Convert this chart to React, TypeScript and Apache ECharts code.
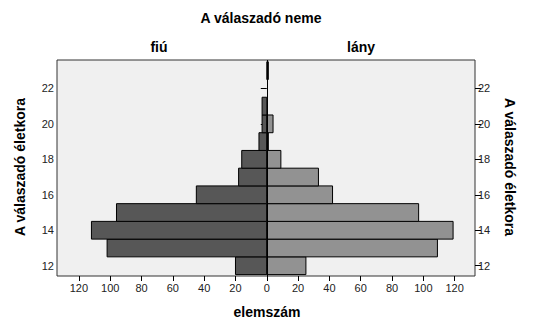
import React, { useEffect, useRef } from "react";
import * as echarts from "echarts";

const ages = [12, 13, 14, 15, 16, 17, 18, 19, 20, 21, 22, 23];
const boys = [20, 102, 112, 96, 45, 18, 16, 5, 3, 3, 0, 0];
const girls = [25, 109, 119, 97, 42, 33, 9, 1, 4, 0, 0, 1];
const yTicks = [12, 14, 16, 18, 20, 22];
const xTicks = [-120, -100, -80, -60, -40, -20, 0, 20, 40, 60, 80, 100, 120];

const FONT = "'Liberation Sans', Arial, sans-serif";

export default function App() {
  const ref = useRef<HTMLDivElement>(null);
  useEffect(() => {
    if (!ref.current) return;
    const chart = echarts.init(ref.current, undefined, { renderer: "svg" });
    const boyData = ages.map((a, i) => [-boys[i], a]);
    const girlData = ages.map((a, i) => [girls[i], a]);
    const renderBar = (color: string) => (params: any, api: any) => {
      const v = api.value(0);
      const age = api.value(1);
      if (!v) return null;
      const p1 = api.coord([0, age + 0.5]);
      const p2 = api.coord([v, age - 0.5]);
      const x = Math.min(p1[0], p2[0]);
      const w = Math.abs(p2[0] - p1[0]);
      return {
        type: "rect",
        shape: { x, y: p1[1], width: w, height: p2[1] - p1[1] },
        style: { fill: color, stroke: "#000", lineWidth: 1 },
      };
    };
    const yAxisCommon = {
      type: "value",
      min: 11.42,
      max: 23.6,
      splitLine: { show: false },
      axisLine: { show: false },
      axisTick: { show: true, length: 6, customValues: yTicks, lineStyle: { color: "#000" } },
      axisLabel: {
        customValues: yTicks,
        color: "#222",
        fontSize: 11,
        fontFamily: FONT,
        margin: 3,
      },
    };
    const bold = `bold 14px ${FONT}`;
    chart.setOption({
      animation: false,
      grid: {
        left: 57,
        right: 59,
        top: 60,
        bottom: 58,
        show: true,
        backgroundColor: "#f0f0f0",
        borderColor: "#333",
        borderWidth: 1,
      },
      xAxis: {
        type: "value",
        min: -134,
        max: 133,
        splitLine: { show: false },
        axisLine: { show: false },
        axisTick: { show: true, length: 5, customValues: xTicks, lineStyle: { color: "#000" } },
        axisLabel: {
          customValues: xTicks,
          formatter: (v: number) => String(Math.abs(v)),
          color: "#222",
          fontSize: 11,
          fontFamily: FONT,
          margin: 6,
        },
      },
      yAxis: [
        { ...yAxisCommon, position: "left" },
        { ...yAxisCommon, position: "right" },
      ],
      series: [
        {
          type: "custom",
          renderItem: renderBar("#575757"),
          data: boyData,
          encode: { x: 0, y: 1 },
          yAxisIndex: 0,
        },
        {
          type: "custom",
          renderItem: renderBar("#929292"),
          data: girlData,
          encode: { x: 0, y: 1 },
          yAxisIndex: 0,
          markLine: {
            silent: true,
            symbol: "none",
            label: { show: false },
            lineStyle: { color: "#000", width: 1, type: "solid" },
            data: [{ xAxis: 0 }],
          },
        },
      ],
      graphic: [
        {
          type: "text",
          x: 261,
          y: 18,
          style: { text: "A válaszadó neme", font: bold, fill: "#000", align: "center", verticalAlign: "middle" },
        },
        {
          type: "text",
          x: 159,
          y: 47,
          style: { text: "fiú", font: bold, fill: "#000", align: "center", verticalAlign: "middle" },
        },
        {
          type: "text",
          x: 361,
          y: 47,
          style: { text: "lány", font: bold, fill: "#000", align: "center", verticalAlign: "middle" },
        },
        {
          type: "text",
          x: 267,
          y: 312,
          style: { text: "elemszám", font: bold, fill: "#000", align: "center", verticalAlign: "middle" },
        },
        {
          type: "text",
          x: 20,
          y: 167,
          rotation: Math.PI / 2,
          style: { text: "A válaszadó életkora", font: bold, fill: "#000", align: "center", verticalAlign: "middle" },
        },
        {
          type: "text",
          x: 510,
          y: 167,
          rotation: -Math.PI / 2,
          style: { text: "A válaszadó életkora", font: bold, fill: "#000", align: "center", verticalAlign: "middle" },
        },
      ],
    });
    return () => chart.dispose();
  }, []);
  return <div ref={ref} style={{ width: 534, height: 334, position: "absolute", left: 0, top: 0 }} />;
}
